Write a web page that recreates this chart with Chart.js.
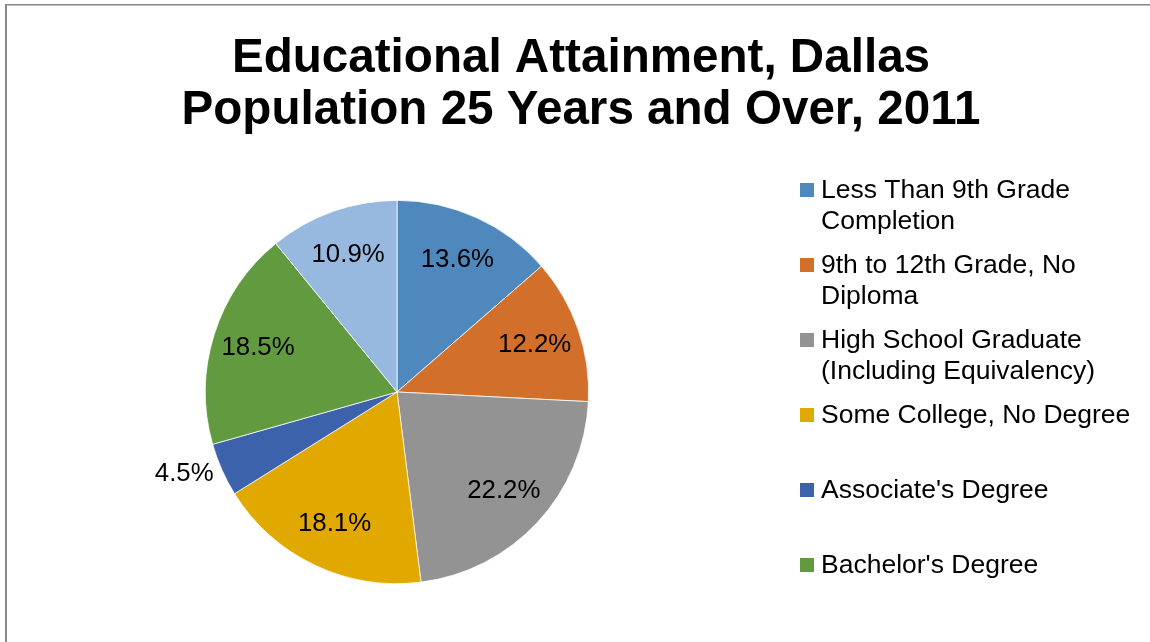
<!DOCTYPE html>
<html>
<head>
<meta charset="utf-8">
<title>Educational Attainment, Dallas</title>
<script src="https://cdn.jsdelivr.net/npm/chart.js@4/dist/chart.umd.min.js"></script>
<style>
  html, body { margin: 0; padding: 0; background: #fff; }
  canvas { display: block; }
</style>
</head>
<body>
<canvas id="pieChart" width="1150" height="642"></canvas>
<script>
"use strict"

// legend entries are split into the lines they wrap to
const categories = [
  ["Less Than 9th Grade", "Completion"],
  ["9th to 12th Grade, No", "Diploma"],
  ["High School Graduate", "(Including Equivalency)"],
  ["Some College, No Degree"],
  ["Associate's Degree"],
  ["Bachelor's Degree"],
  ["Graduate or Professional", "Degree"]
];
const percents = [13.6, 12.2, 22.2, 18.1, 4.5, 18.5, 10.9];
const sliceColors = ["#4F88BD", "#D2702B", "#939393", "#E1A800", "#3C62AC", "#629A40", "#97B9E0"];
const titleLines = ["Educational Attainment, Dallas", "Population 25 Years and Over, 2011"];

const FONT = "'Liberation Sans', Arial, Helvetica, sans-serif";

// frame, title, slice labels and the legend on the right
const decorations = {
  id: 'decorations',
  beforeDraw(chart) {
    let ctx = chart.ctx;
    ctx.save();
    ctx.fillStyle = '#888888';
    ctx.fillRect(5, 4, chart.width - 5, 1.5);
    ctx.fillRect(5, 4, 2, chart.height - 4);

    ctx.fillStyle = '#000';
    ctx.font = 'bold 47.6px ' + FONT;
    ctx.textAlign = 'center';
    ctx.textBaseline = 'alphabetic';
    titleLines.forEach((line, i) => ctx.fillText(line, 581, 72 + i * 52));
    ctx.restore();
  },
  afterDraw(chart) {
    let ctx = chart.ctx;
    let meta = chart.getDatasetMeta(0);
    let values = chart.data.datasets[0].data;
    let total = values.reduce((a, b) => a + b, 0);

    ctx.save();
    ctx.fillStyle = '#000';
    ctx.font = '25.8px ' + FONT;
    ctx.textAlign = 'center';
    ctx.textBaseline = 'middle';
    meta.data.forEach((arc, i) => {
      let p = arc.getProps(['x', 'y', 'startAngle', 'endAngle', 'outerRadius'], true);
      let mid = (p.startAngle + p.endAngle) / 2;
      // thin slices get their label outside the pie, nudged a bit further round
      let outside = values[i] / total < 0.05;
      let dist = outside ? p.outerRadius * 1.19 : p.outerRadius * 0.76;
      if (outside) mid += 0.05;
      ctx.fillText(values[i].toFixed(1) + '%', p.x + Math.cos(mid) * dist, p.y + Math.sin(mid) * dist);
    });

    ctx.textAlign = 'left';
    ctx.textBaseline = 'alphabetic';
    ctx.font = '26.5px ' + FONT;
    let colors = chart.data.datasets[0].backgroundColor;
    chart.data.labels.forEach((lines, i) => {
      let baseline = 198 + i * 75;
      if (baseline > chart.height) return;
      ctx.fillStyle = colors[i];
      ctx.fillRect(800, baseline - 15, 14, 14);
      ctx.fillStyle = '#000';
      lines.forEach((line, j) => ctx.fillText(line, 821, baseline + j * 31));
    });
    ctx.restore();
  }
};

var ctxP = document.getElementById("pieChart").getContext('2d');
var myPieChart = new Chart(ctxP, {
  type: 'pie',
  data: {
    labels: categories,
    datasets: [{
      data: percents,
      backgroundColor: sliceColors,
      borderColor: '#ffffff',
      borderWidth: 0.75
    }]
  },
  options: {
    responsive: false,
    animation: false,
    devicePixelRatio: 1,
    layout: {
      padding: { top: 200, left: 205, right: 561, bottom: 58 }
    },
    plugins: {
      legend: { display: false },
      title: { display: false },
      tooltip: { enabled: false }
    }
  },
  plugins: [decorations]
});
</script>
</body>
</html>
